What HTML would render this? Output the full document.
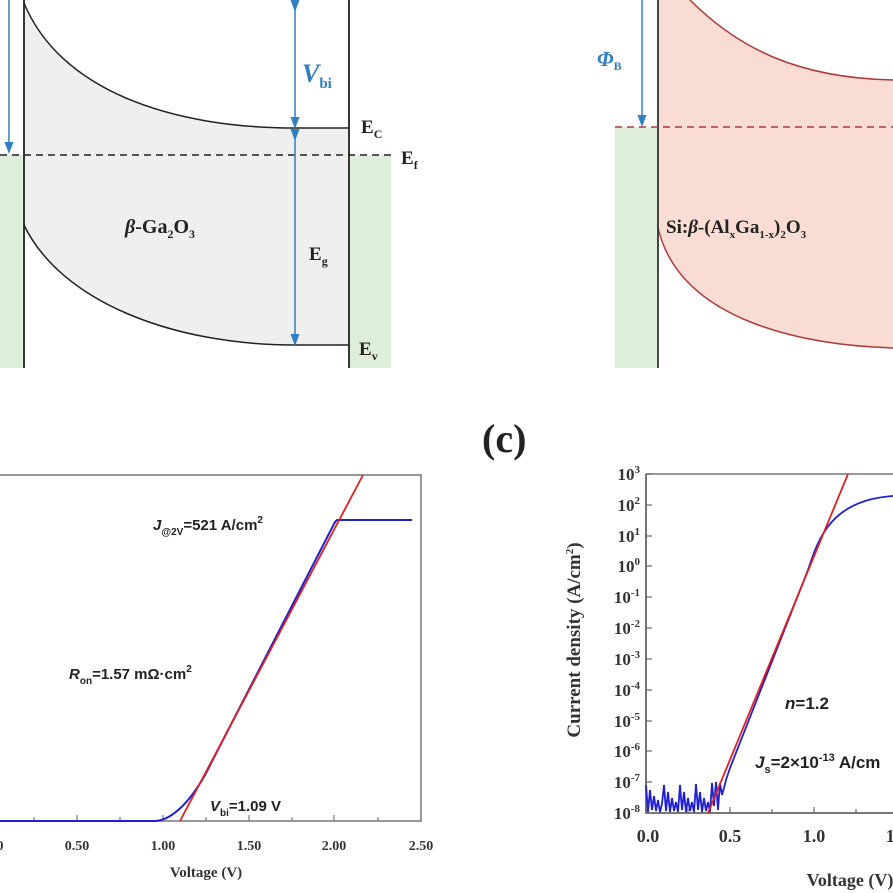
<!DOCTYPE html>
<html><head><meta charset="utf-8"><style>
html,body{margin:0;padding:0;background:#fff;}
svg{display:block;}
.s{font-family:"Liberation Serif",serif;font-weight:bold;}
.a{font-family:"Liberation Sans",sans-serif;font-weight:bold;}
</style></head><body>
<svg width="893" height="893" viewBox="0 0 893 893" xmlns="http://www.w3.org/2000/svg">
<defs>
<marker id="ab" markerWidth="8" markerHeight="8" refX="4" refY="4" orient="auto"><path d="M0,1 L8,4 L0,7 z" fill="#2f7fc1"/></marker>
</defs>
<!-- Panel a -->
<rect x="0" y="155" width="24" height="213" fill="#dfeed8"/>
<rect x="349" y="155" width="42" height="213" fill="#dfeed8"/>
<path d="M24,3 C60,90 170,128 295,128 L349,128 L349,345 L295,345 C170,345 60,300 24,225 Z" fill="#efefef"/>
<path d="M24,3 C60,90 170,128 295,128 L349,128" fill="none" stroke="#222" stroke-width="1.5"/>
<path d="M24,225 C60,300 170,345 295,345 L349,345" fill="none" stroke="#222" stroke-width="1.5"/>
<line x1="24" y1="0" x2="24" y2="368" stroke="#222" stroke-width="1.8"/>
<line x1="349" y1="0" x2="349" y2="368" stroke="#222" stroke-width="1.8"/>
<line x1="0" y1="155" x2="391" y2="155" stroke="#222" stroke-width="1.5" stroke-dasharray="7,5"/>
<line x1="9" y1="0" x2="9" y2="148" stroke="#2f7fc1" stroke-width="1.5" marker-end="url(#ab)"/>
<line x1="295" y1="6" x2="295" y2="123" stroke="#2f7fc1" stroke-width="1.5" marker-end="url(#ab)" marker-start="url(#ab)"/>
<line x1="295" y1="135" x2="295" y2="340" stroke="#2f7fc1" stroke-width="1.5" marker-end="url(#ab)" marker-start="url(#ab)"/>
<text x="302" y="82" class="s" font-style="italic" font-size="26" fill="#2f7fc1">V<tspan font-size="15" font-style="normal" dy="6">bi</tspan></text>
<text x="361" y="133" class="s" font-size="19" fill="#222">E<tspan font-size="12" dy="5">C</tspan></text>
<text x="401" y="164" class="s" font-size="19" fill="#222">E<tspan font-size="12" dy="5">f</tspan></text>
<text x="309" y="260" class="s" font-size="19" fill="#222">E<tspan font-size="12" dy="5">g</tspan></text>
<text x="359" y="355" class="s" font-size="19" fill="#222">E<tspan font-size="12" dy="5">v</tspan></text>
<text x="125" y="233" class="s" font-size="20" fill="#222"><tspan font-style="italic">β</tspan>-Ga<tspan font-size="12" dy="5">2</tspan><tspan dy="-5">O</tspan><tspan font-size="12" dy="5">3</tspan></text>
<!-- Panel b -->
<rect x="615" y="127" width="43" height="241" fill="#dfeed8"/>
<path d="M690,0 C740,50 800,78 893,80 L893,348 C800,345 680,320 658,228 L658,0 Z" fill="#f9dcd3"/>
<path d="M690,0 C740,50 800,78 893,80" fill="none" stroke="#b03a3a" stroke-width="1.5"/>
<path d="M658,228 C680,320 800,345 893,348" fill="none" stroke="#b03a3a" stroke-width="1.5"/>
<line x1="658" y1="0" x2="658" y2="368" stroke="#333" stroke-width="1.8"/>
<line x1="615" y1="127" x2="893" y2="127" stroke="#b03a3a" stroke-width="1.5" stroke-dasharray="7,5"/>
<line x1="642" y1="0" x2="642" y2="121" stroke="#2f7fc1" stroke-width="1.5" marker-end="url(#ab)"/>
<text x="597" y="66" class="s" font-style="italic" font-size="21" fill="#2f7fc1">Φ<tspan font-size="12" font-style="normal" dy="4">B</tspan></text>
<text x="666" y="233" class="s" font-size="19" fill="#222">Si:<tspan font-style="italic">β</tspan>-(Al<tspan font-size="11" dy="5">x</tspan><tspan dy="-5">Ga</tspan><tspan font-size="11" dy="5">1-x</tspan><tspan dy="-5">)</tspan><tspan font-size="11" dy="5">2</tspan><tspan dy="-5">O</tspan><tspan font-size="11" dy="5">3</tspan></text>
<!-- (c) -->
<text x="482" y="452" class="s" font-size="40" fill="#222">(c)</text>
<!-- Bottom-left plot -->
<polyline points="0,475 421,475 421,821 0,821" stroke="#777" stroke-width="1.5" fill="none"/>
<g stroke="#777" stroke-width="1.2">
<line x1="77" y1="821" x2="77" y2="815"/><line x1="163" y1="821" x2="163" y2="815"/><line x1="249" y1="821" x2="249" y2="815"/><line x1="334" y1="821" x2="334" y2="815"/>
<line x1="34" y1="821" x2="34" y2="817"/><line x1="120" y1="821" x2="120" y2="817"/><line x1="206" y1="821" x2="206" y2="817"/><line x1="292" y1="821" x2="292" y2="817"/><line x1="378" y1="821" x2="378" y2="817"/>
</g>
<path d="M0,821 L154,821 C170,821 188,805 205,775 L335,522 L337,520 L412,520" fill="none" stroke="#2020d0" stroke-width="2"/>
<line x1="180" y1="821" x2="363" y2="475" stroke="#e02020" stroke-width="1.8"/>
<g class="s" font-size="14" fill="#333" text-anchor="middle">
<text x="0" y="850">0</text><text x="77" y="850">0.50</text><text x="163" y="850">1.00</text><text x="249" y="850">1.50</text><text x="334" y="850">2.00</text><text x="421" y="850">2.50</text>
<text x="206" y="877" font-size="15">Voltage (V)</text>
</g>
<text x="153" y="530" class="a" font-size="15" fill="#222"><tspan font-style="italic">J</tspan><tspan font-size="10" dy="5">@2V</tspan><tspan dy="-5">=521 A/cm</tspan><tspan font-size="10" dy="-7">2</tspan></text>
<text x="69" y="679" class="a" font-size="15" fill="#222"><tspan font-style="italic">R</tspan><tspan font-size="10" dy="5">on</tspan><tspan dy="-5">=1.57 mΩ·cm</tspan><tspan font-size="10" dy="-7">2</tspan></text>
<text x="210" y="811" class="a" font-size="15" fill="#222"><tspan font-style="italic">V</tspan><tspan font-size="10" dy="5">bi</tspan><tspan dy="-5">=1.09 V</tspan></text>
<!-- Bottom-right plot -->
<polyline points="646,474 893,474" stroke="#777" stroke-width="1.5" fill="none"/>
<polyline points="646,474 646,813 893,813" stroke="#666" stroke-width="1.8" fill="none"/>
<g stroke="#666" stroke-width="1.2">
<line x1="646" y1="474" x2="652" y2="474"/><line x1="646" y1="505" x2="652" y2="505"/><line x1="646" y1="536" x2="652" y2="536"/><line x1="646" y1="566" x2="652" y2="566"/><line x1="646" y1="597" x2="652" y2="597"/><line x1="646" y1="628" x2="652" y2="628"/><line x1="646" y1="659" x2="652" y2="659"/><line x1="646" y1="690" x2="652" y2="690"/><line x1="646" y1="721" x2="652" y2="721"/><line x1="646" y1="751" x2="652" y2="751"/><line x1="646" y1="782" x2="652" y2="782"/>
<line x1="730" y1="813" x2="730" y2="807"/><line x1="814" y1="813" x2="814" y2="807"/><line x1="688" y1="813" x2="688" y2="809"/><line x1="772" y1="813" x2="772" y2="809"/><line x1="856" y1="813" x2="856" y2="809"/>
</g>
<path d="M646,785 L648,812 L650,790 L652,810 L654,796 L656,811 L658,800 L660,812 L662,804 L664,785 L666,811 L668,792 L670,812 L672,798 L674,811 L676,802 L678,812 L680,785 L682,810 L684,792 L686,812 L688,798 L690,811 L692,802 L694,812 L696,784 L698,810 L700,792 L702,812 L704,798 L706,811 L708,802 L710,812 L712,783 L714,806 L716,782 L718,810 L720,783 L722,795 L724,788 L726,780 L730,768 L808,570 C818,540 830,500 893,496" fill="none" stroke="#2020d0" stroke-width="1.8"/>
<line x1="708" y1="813" x2="848" y2="474" stroke="#e02020" stroke-width="1.8"/>
<g class="s" font-size="17" fill="#333" text-anchor="end">
<text x="640" y="480">10<tspan font-size="11" dy="-7">3</tspan></text>
<text x="640" y="511">10<tspan font-size="11" dy="-7">2</tspan></text>
<text x="640" y="542">10<tspan font-size="11" dy="-7">1</tspan></text>
<text x="640" y="572">10<tspan font-size="11" dy="-7">0</tspan></text>
<text x="640" y="603">10<tspan font-size="11" dy="-7">-1</tspan></text>
<text x="640" y="634">10<tspan font-size="11" dy="-7">-2</tspan></text>
<text x="640" y="665">10<tspan font-size="11" dy="-7">-3</tspan></text>
<text x="640" y="696">10<tspan font-size="11" dy="-7">-4</tspan></text>
<text x="640" y="727">10<tspan font-size="11" dy="-7">-5</tspan></text>
<text x="640" y="757">10<tspan font-size="11" dy="-7">-6</tspan></text>
<text x="640" y="788">10<tspan font-size="11" dy="-7">-7</tspan></text>
<text x="640" y="819">10<tspan font-size="11" dy="-7">-8</tspan></text>
</g>
<g class="s" font-size="18" fill="#333" text-anchor="middle">
<text x="648" y="842">0.0</text><text x="730" y="842">0.5</text><text x="814" y="842">1.0</text><text x="897" y="842">1.5</text>
<text x="850" y="886">Voltage (V)</text>
</g>
<text transform="translate(580,640) rotate(-90)" class="s" font-size="19" fill="#333" text-anchor="middle">Current density (A/cm<tspan font-size="11" dy="-7">2</tspan><tspan dy="7">)</tspan></text>
<text x="785" y="709" class="a" font-size="17" fill="#222"><tspan font-style="italic">n</tspan>=1.2</text>
<text x="755" y="768" class="a" font-size="17" fill="#222"><tspan font-style="italic">J</tspan><tspan font-size="11" dy="5">s</tspan><tspan dy="-5">=2×10</tspan><tspan font-size="11" dy="-7">-13</tspan><tspan dy="7"> A/cm</tspan></text>
</svg>
</body></html>
